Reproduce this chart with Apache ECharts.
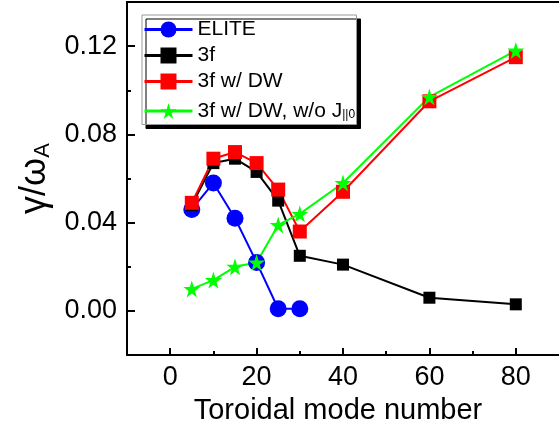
<!DOCTYPE html>
<html>
<head>
<meta charset="utf-8">
<script src="https://cdn.jsdelivr.net/npm/echarts@6/dist/echarts.min.js"></script>
<style>
  html, body { margin: 0; padding: 0; background: #fff; }
  #chart { width: 559px; height: 430px; }
</style>
</head>
<body>
<div id="chart"></div>
<script>
// toroidal mode numbers and growth rates
const eliteN = [5, 10, 15, 20, 25, 30];
const eliteVals = [0.046, 0.058, 0.042, 0.022, 0.001, 0.001];
const modeN = [5, 10, 15, 20, 25, 30, 40, 60, 80];
const f3Vals = [0.048, 0.067, 0.069, 0.063, 0.050, 0.025, 0.021, 0.006, 0.003];
const dwVals = [0.049, 0.069, 0.072, 0.067, 0.055, 0.036, 0.054, 0.095, 0.115];
const noJVals = [0.010, 0.014, 0.020, 0.022, 0.039, 0.044, 0.058, 0.097, 0.118];

const seriesNames = ['ELITE', '3f', '3f w/ DW', '3f w/ DW, w/o J||0'];
const xMajor = [0, 20, 40, 60, 80];
const xMinor = [10, 30, 50, 70];
const yMajor = [0, 0.04, 0.08, 0.12];
const yMinor = [0.02, 0.06, 0.10];

const FONT = '"Liberation Sans", Arial, sans-serif';
const STAR = 'path://M50,0 L61,35 L98,35 L68,57 L79,91 L50,70 L21,91 L32,57 L2,35 L39,35 Z';

const pairs = (xs, ys) => xs.map((x, i) => [x, ys[i]]);

const chart = echarts.init(document.getElementById('chart'), null, { renderer: 'canvas' });

const axisLine = { show: true, onZero: false, lineStyle: { color: '#000', width: 2 } };
const noLine = { show: false, onZero: false };
const tickStyle = { color: '#000', width: 2 };

function lineSeries(name, data, color, symbol, size) {
  return {
    type: 'line',
    name,
    data,
    xAxisIndex: 0,
    yAxisIndex: 0,
    symbol,
    symbolSize: size,
    showAllSymbol: true,
    lineStyle: { color, width: 2 },
    itemStyle: { color, borderWidth: 0 },
    emphasis: { disabled: true },
    animation: false,
  };
}

chart.setOption({
  animation: false,
  textStyle: { fontFamily: FONT },
  grid: { left: 127, top: 2, width: 441, height: 357, containLabel: false },
  legend: {
    orient: 'vertical',
    left: 142,
    top: 15,
    data: seriesNames,
    backgroundColor: '#fff',
    borderColor: '#999',
    borderWidth: 1,
    padding: [4, 1, 3, 1],
    itemWidth: 48,
    itemHeight: 20,
    itemGap: 5,
    shadowColor: '#000',
    shadowOffsetX: 4,
    shadowOffsetY: 4,
    shadowBlur: 0,
    selectedMode: false,
    lineStyle: { width: 3 },
    formatter: (name) => {
      if (name.indexOf('J||0') >= 0) return '{n|3f w/ DW, w/o J}{s|||0}';
      return '{n|' + name + '}';
    },
    textStyle: {
      fontFamily: FONT,
      color: '#000',
      fontSize: 21,
      lineHeight: 20,
      width: 158,
      rich: {
        n: { fontFamily: FONT, fontSize: 21, color: '#000', lineHeight: 20 },
        s: { fontFamily: FONT, fontSize: 12, color: '#000', verticalAlign: 'bottom', lineHeight: 12, padding: [12, 0, 0, 0] },
      },
    },
  },
  xAxis: [
    {
      type: 'value', min: -10, max: 90, position: 'bottom',
      axisLine,
      axisTick: { show: true, inside: true, length: 7, lineStyle: tickStyle, customValues: xMajor },
      axisLabel: { customValues: xMajor, fontSize: 27, color: '#000', margin: 9, fontFamily: FONT },
      splitLine: { show: false },
      name: 'Toroidal mode number',
      nameLocation: 'middle',
      nameGap: 37,
      nameTextStyle: { fontSize: 29, color: '#000', fontFamily: FONT, padding: [0, 10, 0, 0] },
    },
    {
      type: 'value', min: -10, max: 90, position: 'bottom',
      axisLine: noLine,
      axisTick: { show: true, inside: true, length: 4, lineStyle: tickStyle, customValues: xMinor },
      axisLabel: { show: false },
      splitLine: { show: false },
    },
    {
      type: 'value', min: -10, max: 90, position: 'top',
      axisLine,
      axisTick: { show: false },
      axisLabel: { show: false },
      splitLine: { show: false },
    },
  ],
  yAxis: [
    {
      type: 'value', min: -0.02, max: 0.14, position: 'left',
      axisLine,
      axisTick: { show: true, inside: true, length: 8, lineStyle: tickStyle, customValues: yMajor },
      axisLabel: {
        customValues: yMajor, fontSize: 27, color: '#000', margin: 10, fontFamily: FONT,
        formatter: (v) => v.toFixed(2),
      },
      splitLine: { show: false },
      name: '{a|γ/ω}{b|A}',
      nameLocation: 'middle',
      nameGap: 70,
      nameRotate: 90,
      nameTextStyle: {
        color: '#000',
        rich: {
          a: { fontFamily: FONT, fontSize: 36, color: '#000', lineHeight: 36 },
          b: { fontFamily: FONT, fontSize: 22, color: '#000', verticalAlign: 'bottom', lineHeight: 22, padding: [22, 0, 0, 0] },
        },
      },
    },
    {
      type: 'value', min: -0.02, max: 0.14, position: 'left',
      axisLine: noLine,
      axisTick: { show: true, inside: true, length: 4, lineStyle: tickStyle, customValues: yMinor },
      axisLabel: { show: false },
      splitLine: { show: false },
    },
  ],
  series: [
    lineSeries(seriesNames[0], pairs(eliteN, eliteVals), '#0000ff', 'circle', 17),
    lineSeries(seriesNames[1], pairs(modeN, f3Vals), '#000000', 'rect', 12),
    lineSeries(seriesNames[2], pairs(modeN, dwVals), '#ff0000', 'rect', 14),
    lineSeries(seriesNames[3], pairs(modeN, noJVals), '#00ff00', STAR, 17),
  ],
});
</script>
</body>
</html>
